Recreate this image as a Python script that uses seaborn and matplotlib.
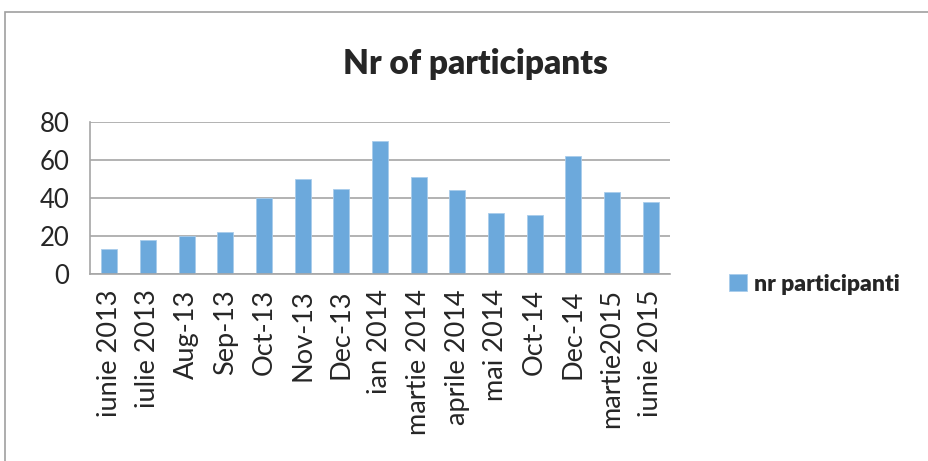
import matplotlib
matplotlib.use("Agg")
import matplotlib.pyplot as plt
import seaborn as sns
import pandas as pd
from matplotlib.patches import Rectangle

# %% Data
months = ['iunie 2013', 'iulie 2013', 'Aug-13', 'Sep-13', 'Oct-13', 'Nov-13', 'Dec-13',
          'ian 2014', 'martie 2014', 'aprile 2014', 'mai 2014', 'Oct-14', 'Dec-14',
          'martie2015', 'iunie 2015']
participants = [13, 18, 20, 22, 40, 50, 45, 70, 51, 44, 32, 31, 62, 43, 38]
y_ticks = [0, 20, 40, 60, 80]

df = pd.DataFrame({'month': months, 'nr participanti': participants})

# %% Plot
sns.set_style('white')
plt.rcParams['font.family'] = ['Lato', 'DejaVu Sans']

fig = plt.figure(figsize=(9.29, 4.61), dpi=100)
ax = fig.add_axes([90 / 929, 1 - 274 / 461, 580 / 929, 152 / 461])

bar_color = '#6CA9DC'
sns.barplot(data=df, x='month', y='nr participanti', color=bar_color, width=0.42,
            saturation=1, edgecolor='#A9CDEB', linewidth=0.6, label='nr participanti', ax=ax)

ax.set_ylim(0, 80)
ax.set_xlim(-0.5, len(months) - 0.5)
ax.set_yticks(y_ticks)
ax.set_yticklabels([str(t) for t in y_ticks], fontsize=18.5)
ax.yaxis.grid(True, color='#A6A6A6', linewidth=1.2)
ax.set_axisbelow(True)

# x ticks sit between categories, labels at category centres
ax.set_xticks([i + 0.5 for i in range(-1, len(months))], minor=True)
ax.set_xticks(range(len(months)))
ax.set_xticklabels(months, rotation=90, fontsize=19.5, va='top', ha='center')
ax.tick_params(axis='x', which='major', length=0, pad=11)
ax.tick_params(axis='x', which='minor', length=9, width=1.2, color='#A6A6A6', direction='out')
ax.tick_params(axis='y', length=11, width=1.2, color='#A6A6A6', direction='out', pad=4)
ax.set_xlabel('')
ax.set_ylabel('')

for side in ['top', 'right']:
    ax.spines[side].set_visible(False)
for side in ['left', 'bottom']:
    ax.spines[side].set_color('#A6A6A6')
    ax.spines[side].set_linewidth(1.2)

fig.text(475 / 929, 1 - 64 / 461, 'Nr of participants', fontsize=24, fontweight='heavy',
         ha='center', va='center')

handles, labels = ax.get_legend_handles_labels()
ax.legend(handles, labels, loc='center left', bbox_to_anchor=(708 / 929, 1 - 284 / 461),
          bbox_transform=fig.transFigure, frameon=False, handlelength=0.8, handleheight=0.8,
          handletextpad=0.3, prop={'weight': 'heavy', 'size': 16.5})

# chart border
fig.patches.append(Rectangle((5 / 929, -0.05), 1.1, 1 - 12 / 461 + 0.05,
                             transform=fig.transFigure, fill=False,
                             edgecolor='#A0A0A0', linewidth=1.2))

fig.savefig('out.png', dpi=100)
